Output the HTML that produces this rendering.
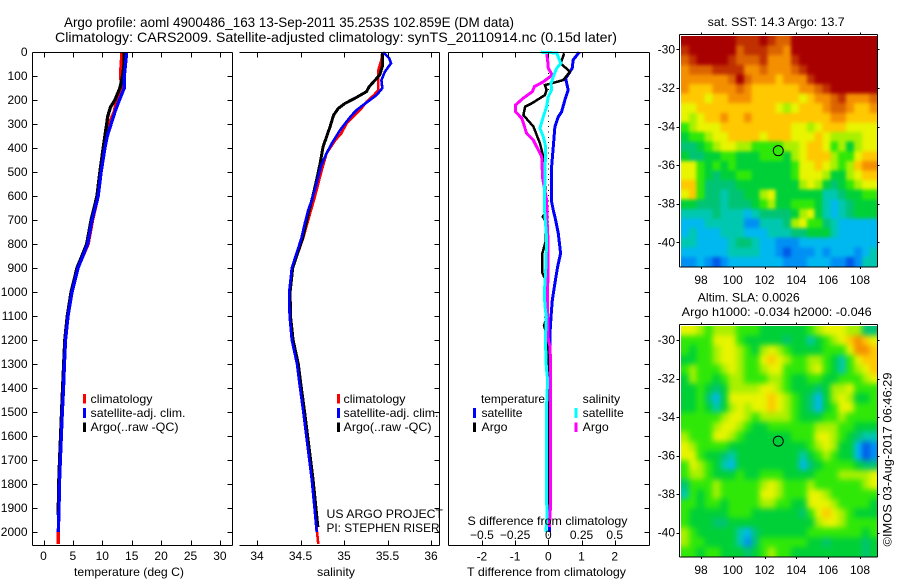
<!DOCTYPE html>
<html lang="en">
<head>
<meta charset="utf-8">
<title>Argo profile 4900486_163</title>
<style>
html,body{margin:0;padding:0;background:#fff;width:900px;height:580px;overflow:hidden}
svg{display:block}
text{font-family:"Liberation Sans",sans-serif;font-size:12px;fill:#000}
.title{font-size:14px}
</style>
</head>
<body>
<svg id="chart" xmlns="http://www.w3.org/2000/svg" width="900" height="580" viewBox="0 0 900 580">
  <defs>
    <filter id="sstSoften" filterUnits="userSpaceOnUse" x="650" y="0" width="250" height="290" color-interpolation-filters="sRGB"><feGaussianBlur stdDeviation="1.8"/></filter>
    <filter id="slaSoften" filterUnits="userSpaceOnUse" x="650" y="290" width="250" height="290" color-interpolation-filters="sRGB"><feGaussianBlur stdDeviation="3"/></filter>
    <clipPath id="sstClip"><rect x="681" y="36" width="196.5" height="230.5"/></clipPath>
    <clipPath id="slaClip"><rect x="681" y="326" width="196.5" height="230.5"/></clipPath>
  </defs>
  <rect x="0" y="0" width="900" height="580" fill="#fff"/>
  <g id="mapLayer"></g>
  <g id="plotLayer"></g>
  <g id="axisLayer"></g>

  <text class="title" x="64" y="27" textLength="450" lengthAdjust="spacingAndGlyphs">Argo profile: aoml 4900486_163 13-Sep-2011 35.253S 102.859E (DM data)</text>
  <text class="title" x="55" y="42" textLength="562" lengthAdjust="spacingAndGlyphs">Climatology: CARS2009. Satellite-adjusted climatology: synTS_20110914.nc (0.15d later)</text>

  <text x="74" y="576" textLength="110" lengthAdjust="spacingAndGlyphs">temperature (deg C)</text>
  <text x="317" y="576" textLength="38" lengthAdjust="spacingAndGlyphs">salinity</text>
  <text x="467" y="576" textLength="159" lengthAdjust="spacingAndGlyphs">T difference from climatology</text>
  <text x="467.5" y="525" textLength="160" lengthAdjust="spacingAndGlyphs">S difference from climatology</text>

  <g>
    <rect x="83" y="394" width="3" height="9.5" fill="#f00"/>
    <text x="90.5" y="403" textLength="62" lengthAdjust="spacingAndGlyphs">climatology</text>
    <rect x="83" y="408" width="3" height="10" fill="#00f"/>
    <text x="90.5" y="417" textLength="95" lengthAdjust="spacingAndGlyphs">satellite-adj. clim.</text>
    <rect x="83" y="422.5" width="3" height="9.5" fill="#000"/>
    <text x="90.5" y="431" textLength="88" lengthAdjust="spacingAndGlyphs">Argo(..raw -QC)</text>
  </g>
  <g>
    <rect x="337" y="394" width="3" height="9.5" fill="#f00"/>
    <text x="343.5" y="403" textLength="62" lengthAdjust="spacingAndGlyphs">climatology</text>
    <rect x="337" y="408" width="3" height="10" fill="#00f"/>
    <text x="343.5" y="417" textLength="95" lengthAdjust="spacingAndGlyphs">satellite-adj. clim.</text>
    <rect x="337" y="422.5" width="3" height="9.5" fill="#000"/>
    <text x="343.5" y="431" textLength="88" lengthAdjust="spacingAndGlyphs">Argo(..raw -QC)</text>
  </g>
  <text x="326.5" y="518" textLength="116.5" lengthAdjust="spacingAndGlyphs">US ARGO PROJECT</text>
  <text x="326.5" y="532" textLength="113" lengthAdjust="spacingAndGlyphs">PI: STEPHEN RISER</text>

  <g>
    <text x="481" y="403" textLength="64" lengthAdjust="spacingAndGlyphs">temperature</text>
    <rect x="473" y="408" width="3" height="10" fill="#00f"/>
    <text x="481.5" y="417" textLength="41" lengthAdjust="spacingAndGlyphs">satellite</text>
    <rect x="473" y="422.5" width="3" height="9.5" fill="#000"/>
    <text x="481.5" y="431" textLength="26" lengthAdjust="spacingAndGlyphs">Argo</text>
    <text x="582.7" y="403" textLength="37.5" lengthAdjust="spacingAndGlyphs">salinity</text>
    <rect x="574.5" y="408" width="3" height="10" fill="#0ff"/>
    <text x="582.7" y="417" textLength="41" lengthAdjust="spacingAndGlyphs">satellite</text>
    <rect x="574.5" y="422.5" width="3" height="9.5" fill="#f0f"/>
    <text x="582.7" y="431" textLength="26" lengthAdjust="spacingAndGlyphs">Argo</text>
  </g>

  <text x="707.7" y="26" textLength="137" lengthAdjust="spacingAndGlyphs">sat. SST: 14.3 Argo: 13.7</text>
  <text x="697.7" y="301.5" textLength="102" lengthAdjust="spacingAndGlyphs">Altim. SLA: 0.0026</text>
  <text x="681.7" y="316" textLength="190" lengthAdjust="spacingAndGlyphs">Argo h1000: -0.034 h2000: -0.046</text>
  <text transform="translate(891.5,546.5) rotate(-90)" textLength="174" lengthAdjust="spacingAndGlyphs">©IMOS 03-Aug-2017 06:46:29</text>
</svg>

<script>
// ---------- profile data (depth in dbar, values in physical units) ----------
const tempClimDepths = [0,50,100,150,200,250,300,350,400,500,600,700,800,900,1000,1100,1200,1300,1400,1500,1600,1700,1800,1900,2000,2050];
const tempClimValues = [13.35,13.2,13.1,13.3,12.45,12.0,11.1,10.75,10.45,9.8,9.3,8.35,7.6,5.85,4.85,4.17,3.75,3.55,3.4,3.2,3.03,2.86,2.7,2.64,2.52,2.5];
const tempSatDepths = [0,100,150,200,250,300,350,400,500,600,700,800,900,1000,1100,1200,1300,1400,1500,1600,1700,1800,1900,2000];
const tempSatValues = [14.15,13.75,13.75,12.9,12.15,11.5,10.85,10.45,9.8,9.3,8.25,7.5,5.87,4.85,4.17,3.75,3.55,3.4,3.2,3.03,2.86,2.7,2.64,2.52];
const tempArgoDepths = [0,50,100,150,200,230,270,300,350,400,500,600,700,800,900,1000,1100,1200,1300,1400,1500,1600,1700,1800,1930];
const tempArgoValues = [13.7,13.7,13.45,13.0,12.15,11.4,10.9,10.75,10.45,10.15,9.6,9.1,8.1,7.35,5.7,4.7,4.05,3.62,3.43,3.25,3.07,2.9,2.74,2.58,2.5];

const salClimDepths = [1,33,75,117,158,179,207,235,263,297,339,367,422,478,533,603,672,776,900,1000,1100,1200,1300,1367,1506,1645,1783,1922,2000,2050];
const salClimValues = [35.44,35.43,35.395,35.395,35.395,35.345,35.26,35.2,35.125,35.03,34.97,34.9,34.8,34.755,34.715,34.665,34.61,34.53,34.41,34.375,34.38,34.41,34.47,34.49,34.54,34.59,34.635,34.67,34.69,34.705];
const salSatDepths = [1,26,47,82,117,151,179,200,221,242,263,290,318,346,381,422,471,519,568,617,658,714,776,900,1000,1100,1200,1300,1367,1506,1645,1783,1922,2000];
const salSatValues = [35.45,35.52,35.54,35.47,35.43,35.44,35.375,35.3,35.22,35.145,35.09,35.03,34.97,34.92,34.86,34.8,34.74,34.705,34.67,34.63,34.59,34.55,34.51,34.4,34.37,34.375,34.4,34.46,34.483,34.535,34.583,34.63,34.667,34.686];
const salArgoDepths = [1,61,96,124,144,165,193,214,235,263,311,353,394,464,533,603,672,776,900,1000,1100,1200,1300,1367,1506,1645,1783,1980];
const salArgoValues = [35.44,35.44,35.41,35.34,35.29,35.26,35.125,35.01,34.935,34.88,34.84,34.8,34.76,34.725,34.685,34.64,34.59,34.525,34.41,34.38,34.385,34.415,34.475,34.498,34.55,34.598,34.645,34.7];

const diffTSatDepths = [1,33,68,89,110,158,200,249,270,311,394,478,617,659,700,756,839,895,964,1034,1103,1173,1242,1500,1800,2000];
const diffTSatValues = [0.93,0.75,0.72,0.62,0.52,0.60,0.50,0.40,0.30,0.20,0.15,0.10,0.09,0.15,0.22,0.30,0.37,0.28,0.20,0.12,0.08,0.05,0.05,0.04,0.03,0.03];
const diffTArgoDepths = [6,47,82,117,138,158,179,214,228,263,311,381,436,600,670,686,705,790,840,920,950,1120,1140,1160,1220,1270,1500,1900];
const diffTArgoValues = [0.48,0.37,0.65,0.45,-0.10,-0.05,-0.10,-0.50,-0.70,-0.75,-0.45,-0.25,-0.15,-0.08,-0.08,-0.17,-0.08,-0.08,-0.18,-0.18,-0.08,-0.08,-0.13,-0.08,-0.02,0.0,0.0,0.02];
const diffSArgoDepths = [1,33,68,96,124,144,165,193,221,249,276,339,367,394,436,526,617,714,776,900,1034,1075,1200,1228,1310,1908,1980];
const diffSArgoValues = [-0.013,-0.005,0,0.03,-0.038,-0.105,-0.12,-0.19,-0.246,-0.246,-0.2,-0.163,-0.113,-0.088,-0.05,-0.043,-0.013,-0.008,-0.003,-0.003,-0.005,-0.005,0,0.0125,0.018,0.015,0.008];
const diffSSatDepths = [1,4,47,68,103,131,158,186,228,270,318,353,394,506,644,776,895,1006,1061,1103,1200,1311,1367,1506,1850,1922,2000];
const diffSSatValues = [-0.055,0.063,0.093,0.063,0.038,0.02,0.025,0,-0.013,-0.038,-0.063,-0.038,-0.02,-0.025,-0.03,-0.013,-0.018,-0.03,-0.025,-0.015,-0.022,-0.015,-0.005,-0.015,-0.015,-0.008,-0.018];

// ---------- tick labels ----------
const depthTicks = [0,100,200,300,400,500,600,700,800,900,1000,1100,1200,1300,1400,1500,1600,1700,1800,1900,2000];
const tempTicks = [0,5,10,15,20,25,30];
const salTicks = [34,34.5,35,35.5,36];
const salTickLabels = ['34','34.5','35','35.5','36'];
const diffTTicks = [-2,-1,0,1,2];
const diffTTickLabels = ['-2','-1','0','1','2'];
const diffSTicks = [-0.5,-0.25,0,0.25,0.5];
const diffSTickLabels = ['\u22120.5','\u22120.25','0','0.25','0.5'];
const lonTicks = [98,100,102,104,106,108];
const latTicks = [-30,-32,-34,-36,-38,-40];

// ---------- map data (colour-scale level, 0 = coldest/lowest, 13 = warmest/highest) ----------
const argoLon = 102.859;
const argoLat = -35.253;
const mapLevelColors = ['#0058e8','#0090f4','#00b8f0','#00c8b0','#00c474','#00d038','#30e808','#a8f000','#e8f400','#ffc800','#f49000','#dc6400','#c03000','#a80000'];
const sstGrid = [
[13,13,13,13,13,13,13,12,12,12,13,12,11,11,13,13,13,13,13,13,13,13,13,13,13],
[12,13,13,13,13,13,13,11,12,12,12,11,11,10,13,13,13,13,13,13,13,13,13,13,13],
[11,12,13,13,13,13,12,11,11,11,12,10,10,10,12,13,13,13,13,13,13,13,13,13,13],
[10,11,11,11,12,12,12,12,10,10,11,10,10,10,11,12,13,13,13,13,13,13,13,13,13],
[10,10,10,10,10,10,11,13,11,10,10,10,9,10,10,10,12,13,13,13,13,13,13,13,13],
[10,9,9,9,10,10,10,11,10,9,9,9,9,9,9,10,10,11,12,13,13,13,13,13,13],
[9,9,9,8,9,9,10,10,10,9,9,9,9,9,9,8,9,10,10,11,12,10,10,10,11],
[8,8,9,9,9,9,9,9,9,9,9,9,8,7,8,9,9,9,10,11,11,10,9,9,10],
[8,7,8,9,9,10,9,9,10,9,9,9,9,9,9,9,9,9,9,10,10,9,9,9,9],
[6,7,8,8,8,9,9,9,9,9,9,9,9,9,8,8,7,8,9,9,9,8,8,8,8],
[5,6,6,7,8,8,9,9,9,9,8,9,9,9,8,8,8,9,8,7,7,7,7,8,8],
[4,4,5,6,7,8,8,7,7,6,6,6,6,7,7,8,9,9,8,6,7,5,7,8,8],
[5,4,4,5,5,6,6,5,5,5,6,6,6,5,7,8,9,9,9,7,6,6,8,9,9],
[8,8,6,5,6,5,6,5,5,5,5,5,5,5,6,8,8,9,8,7,6,7,9,10,10],
[8,8,6,5,4,5,5,6,6,5,5,5,5,5,6,8,8,8,7,5,5,7,8,9,9],
[9,9,6,4,4,4,4,5,5,5,5,5,5,5,5,7,8,7,5,4,5,6,7,8,8],
[8,9,6,4,4,3,4,4,5,5,7,8,5,5,5,5,5,5,3,3,4,5,5,6,6],
[5,5,4,4,4,3,4,4,4,5,6,7,5,5,6,6,6,5,3,2,3,4,5,5,5],
[3,3,3,3,4,3,3,3,2,3,4,4,4,4,5,7,8,5,3,2,3,4,5,5,5],
[2,2,2,3,3,3,3,3,1,1,3,3,3,4,7,8,6,6,4,3,2,2,2,2,2],
[2,3,2,2,2,3,3,3,2,2,2,3,3,3,4,4,5,5,5,3,2,2,2,2,2],
[3,3,2,2,2,2,3,4,4,3,2,2,1,1,1,2,2,2,2,2,2,2,2,2,2],
[2,2,2,2,2,2,3,3,3,3,2,2,1,0,1,1,1,2,1,2,2,2,1,2,3],
[1,1,2,1,0,1,2,2,2,2,2,2,2,1,1,1,2,2,2,1,1,0,1,3,3]
];
const slaGrid = [
[8,8,7,6,7,7,7,6,6,6,5,5,5,5,5,5,6,7,8,8,8,7,7,4,4],
[6,6,6,6,8,8,8,6,5,5,5,5,5,4,5,5,3,5,6,7,8,9,10,9,8],
[6,5,6,6,7,8,8,7,6,5,7,8,7,6,5,5,5,5,6,6,6,8,10,10,9],
[5,5,6,6,7,8,8,7,6,6,8,9,8,7,6,6,7,7,6,5,3,6,8,9,9],
[6,7,6,6,6,7,8,7,6,6,7,8,8,6,6,6,7,8,6,5,3,6,7,8,9],
[5,7,6,6,5,6,7,7,6,6,6,7,7,6,5,5,6,6,5,5,6,6,6,7,8],
[5,5,6,5,4,5,7,7,7,7,8,8,7,6,5,5,5,4,5,7,7,8,6,6,6],
[5,5,6,4,2,5,8,8,8,8,8,9,8,7,6,5,4,2,5,7,8,7,5,5,6],
[5,5,6,5,3,5,7,8,7,8,8,9,8,7,6,5,4,2,5,6,8,8,6,6,6],
[6,6,6,6,6,7,8,8,7,6,7,7,7,7,6,5,5,5,6,6,7,6,6,6,6],
[6,6,6,6,7,8,8,7,6,5,5,6,6,6,6,6,6,7,7,7,6,6,5,5,5],
[7,6,6,6,8,8,7,6,5,5,5,5,5,5,6,6,6,8,8,7,6,5,4,3,3],
[8,7,6,6,6,6,5,5,5,5,5,5,5,5,5,5,6,7,8,7,5,5,2,0,1],
[8,8,6,5,5,4,3,5,5,5,5,5,5,5,5,3,5,6,7,6,5,5,2,0,1],
[6,8,7,6,5,3,2,5,5,5,5,5,5,5,5,2,4,5,6,6,6,6,5,4,4],
[6,7,7,6,5,5,5,6,5,5,6,6,6,5,5,5,5,6,6,6,7,7,7,7,8],
[4,6,6,6,7,6,6,6,6,6,7,8,7,6,6,6,7,6,6,6,6,6,6,7,8],
[3,6,5,6,7,6,6,6,6,6,8,8,7,6,6,6,8,8,7,6,6,6,6,6,6],
[6,6,5,6,6,5,6,6,6,6,7,7,6,6,5,5,8,8,8,7,6,6,6,6,5],
[6,5,5,5,5,5,6,6,6,5,5,5,5,5,5,4,6,8,9,8,7,6,5,5,5],
[6,5,5,5,4,4,5,5,5,5,5,5,5,5,5,5,5,7,8,8,7,6,6,6,6],
[7,6,5,5,5,5,5,3,2,4,5,5,5,5,5,5,6,6,6,6,6,6,6,5,6],
[7,6,6,5,5,5,5,3,1,4,6,6,6,6,6,6,5,5,4,5,5,5,5,4,5],
[6,6,5,6,6,5,5,5,4,5,6,7,6,6,5,5,5,5,5,5,5,5,5,4,5]
];

// ---------- axis functions ----------
const depthY = d => 52 + 0.24 * d;
const tempX = t => 43.5 + 5.88 * t;
const salX = s => 257 + 87 * (s - 34);
const diffTX = t => 548.3 + 33.2 * t;
const diffSX = s => 548.3 + 132.8 * s;
const lonX = lon => 701 + 15.9 * (lon - 98);
const sstLatY = lat => 49.3 + 19.3 * (-30 - lat);
const slaLatY = lat => 340 + 19.25 * (-30 - lat);

// ---------- drawing helpers ----------
const NS = 'http://www.w3.org/2000/svg';
const mapLayer = document.getElementById('mapLayer');
const plotLayer = document.getElementById('plotLayer');
const axisLayer = document.getElementById('axisLayer');

function svgEl(tag, parent) {
  const el = document.createElementNS(NS, tag);
  parent.appendChild(el);
  return el;
}
function setAll(el, attrs) {
  for (const k in attrs) el.setAttribute(k, attrs[k]);
}
function addLine(x1, y1, x2, y2) {
  const el = svgEl('line', axisLayer);
  setAll(el, {x1, y1, x2, y2, stroke: '#000', 'stroke-width': 1, 'shape-rendering': 'crispEdges'});
  return el;
}
function addLabel(x, y, str, anchor) {
  const el = svgEl('text', axisLayer);
  setAll(el, {x, y, 'text-anchor': anchor});
  el.textContent = str;
  return el;
}
function drawSeries(name, depths, values, xFn, color, width) {
  const el = svgEl('polyline', plotLayer);
  
  
  const pts = depths.map((d, i) => xFn(values[i]).toFixed(1) + ',' + depthY(d).toFixed(1));
  setAll(el, {points: pts.join(' '), fill: 'none', stroke: color, 'stroke-width': width, 'stroke-linejoin': 'miter', 'shape-rendering': 'crispEdges'});
}
function drawFrame(name, left, right, top, bottom, hasLeft) {
  const t = addLine(left, top, right, top);
  
  
  const b = addLine(left, bottom, right, bottom);
  
  
  const r = addLine(right, top, right, bottom);
  
  
  if (hasLeft) {
    const l = addLine(left, top, left, bottom);
    
    
  }
}
function drawProfileXTicks(name, ticks, labels, xFn, labelY) {
  ticks.forEach((v, i) => {
    const x = Math.round(xFn(v)) + 0.5;
    const up = addLine(x, 52.5, x, 57.5);
    
    
    const dn = addLine(x, 540.5, x, 545.5);
    
    
    const lab = addLabel(xFn(v), labelY, labels[i], 'middle');
    
    
  });
}
function drawDepthTicks(name, left, right, withLabels, withLeft) {
  depthTicks.forEach(d => {
    const y = Math.round(depthY(d)) + 0.5;
    if (withLeft) {
      const a = addLine(left, y, left + 5, y);
      
      
    }
    const b = addLine(right - 5, y, right, y);
    
    
    if (withLabels) {
      const lab = addLabel(27.5, depthY(d) + 4, String(d), 'end');
      
      
    }
  });
}

// ---------- map drawing ----------
function drawMap(name, grid, latFn, top, bottom, filterId, clipId) {
  const left = 681, right = 877.5;
  const rows = grid.length, cols = grid[0].length;
  const cw = (right - left) / cols, ch = (bottom - top) / rows;
  const clipGroup = svgEl('g', mapLayer);
  
  
  clipGroup.setAttribute('clip-path', 'url(#' + clipId + ')');
  const softGroup = svgEl('g', clipGroup);
  
  
  softGroup.setAttribute('filter', 'url(#' + filterId + ')');
  grid.forEach((row, r) => row.forEach((level, c) => {
    // border cells bleed past the frame so the softening stays opaque at the clip edge
    const padL = c === 0 ? 14 : 0, padR = c === cols - 1 ? 14 : 0;
    const padT = r === 0 ? 14 : 0, padB = r === rows - 1 ? 14 : 0;
    const cell = svgEl('rect', softGroup);
    
    
    setAll(cell, {x: (left + c * cw - padL).toFixed(2), y: (top + r * ch - padT).toFixed(2), width: (cw + 0.4 + padL + padR).toFixed(2), height: (ch + 0.4 + padT + padB).toFixed(2), fill: mapLevelColors[level], 'shape-rendering': 'crispEdges'});
  }));
  drawFrame(name, 679.5, 877.5, top - 1.5, bottom + 0.5, true);
  lonTicks.forEach(lon => {
    const x = Math.round(lonX(lon)) + 0.5;
    const a = addLine(x, top - 3.5, x, top - 1.5);
    
    
    const b = addLine(x, bottom + 0.5, x, bottom + 2.5);
    
    
    const lab = addLabel(lonX(lon), bottom + 17.5, String(lon), 'middle');
    
    
  });
  latTicks.forEach(lat => {
    const y = Math.round(latFn(lat)) + 0.5;
    const a = addLine(676.5, y, 679.5, y);
    
    
    const b = addLine(877.5, y, 879.5, y);
    
    
    const lab = addLabel(675, latFn(lat) + 4, String(lat), 'end');
    
    
  });
  const mark = svgEl('circle', axisLayer);
  
  
  setAll(mark, {cx: lonX(argoLon), cy: latFn(argoLat), r: 5, fill: 'none', stroke: '#000', 'stroke-width': 1});
}

// ---------- profile panels ----------
drawSeries('temperature-climatology-line', tempClimDepths, tempClimValues, tempX, '#f00', 3.3);
drawSeries('temperature-argo-line', tempArgoDepths, tempArgoValues, tempX, '#000', 3.3);
drawSeries('temperature-satellite-line', tempSatDepths, tempSatValues, tempX, '#00f', 3.3);

drawSeries('salinity-climatology-line', salClimDepths, salClimValues, salX, '#f00', 2.6);
drawSeries('salinity-argo-line', salArgoDepths, salArgoValues, salX, '#000', 3);
drawSeries('salinity-satellite-line', salSatDepths, salSatValues, salX, '#00f', 2.6);

const zeroLine = svgEl('line', plotLayer);


setAll(zeroLine, {x1: 548.5, y1: 52, x2: 548.5, y2: 545, stroke: '#000', 'stroke-width': 1, 'stroke-dasharray': '1 4.3', 'shape-rendering': 'crispEdges'});

drawSeries('t-difference-satellite-line', diffTSatDepths, diffTSatValues, diffTX, '#00f', 3);
drawSeries('t-difference-argo-line', diffTArgoDepths, diffTArgoValues, diffTX, '#000', 2.5);
drawSeries('s-difference-argo-line', diffSArgoDepths, diffSArgoValues, diffSX, '#f0f', 3);
drawSeries('s-difference-satellite-line', diffSSatDepths, diffSSatValues, diffSX, '#0ff', 3);

drawFrame('temperature-panel', 32.5, 232.5, 52.5, 545.5, true);
drawFrame('salinity-panel', 239.5, 439.5, 52.5, 545.5, false);
drawFrame('difference-panel', 448.5, 649.5, 52.5, 545.5, true);

drawDepthTicks('temperature-panel', 32.5, 232.5, true, true);
drawDepthTicks('salinity-panel', 239.5, 439.5, false, false);
drawDepthTicks('difference-panel', 448.5, 649.5, false, false);

drawProfileXTicks('temperature-axis', tempTicks, tempTicks.map(String), tempX, 560);
drawProfileXTicks('salinity-axis', salTicks, salTickLabels, salX, 560);
drawProfileXTicks('t-difference-axis', diffTTicks, diffTTickLabels, diffTX, 560.5);
diffSTicks.forEach((v, i) => {
  const lab = addLabel(diffSX(v), 539, diffSTickLabels[i], 'middle');
  
  
});

drawMap('sst-map', sstGrid, sstLatY, 36, 266.5, 'sstSoften', 'sstClip');
drawMap('sla-map', slaGrid, slaLatY, 326, 556.5, 'slaSoften', 'slaClip');
</script>
</body>
</html>
